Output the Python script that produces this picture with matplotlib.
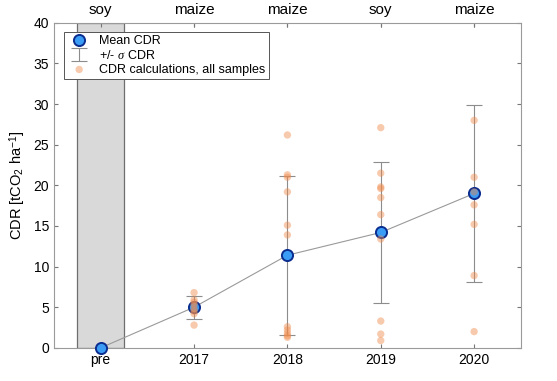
import matplotlib.pyplot as plt
from matplotlib.patches import Rectangle

plt.rcParams['font.family'] = ['Liberation Sans', 'DejaVu Sans']
plt.rcParams['mathtext.fontset'] = 'custom'
plt.rcParams['mathtext.rm'] = 'Liberation Sans'
plt.rcParams['mathtext.it'] = 'Liberation Serif:italic'

# data
years = ['pre', '2017', '2018', '2019', '2020']
crops = ['soy', 'maize', 'maize', 'soy', 'maize']
mean_cdr = [0.0, 5.0, 11.4, 14.2, 19.0]
std_cdr = [0.0, 1.4, 9.8, 8.7, 10.9]

samples_2017 = [6.8, 5.9, 5.6, 5.3, 4.8, 4.5, 4.2, 2.8]
samples_2018 = [26.2, 21.3, 21.0, 19.2, 15.1, 13.9, 2.6, 2.2, 1.8, 1.5, 1.3]
samples_2019 = [27.1, 21.5, 19.8, 19.6, 18.5, 16.4, 13.4, 3.3, 1.7, 0.9]
samples_2020 = [28.0, 21.0, 19.2, 17.6, 15.2, 8.9, 2.0]
samples = [[], samples_2017, samples_2018, samples_2019, samples_2020]

fig, ax = plt.subplots(figsize=(5.57, 3.81), dpi=100)
fig.subplots_adjust(left=0.097, right=0.935, top=0.94, bottom=0.087)

x = list(range(len(years)))

# grey band for the pre-treatment year
ax.add_patch(Rectangle((-0.25, 0), 0.5, 40, facecolor='#d9d9d9',
                       edgecolor='#6e6e6e', linewidth=0.9, zorder=1))

# mean line + error bars
ax.plot(x, mean_cdr, color='#9a9a9a', linewidth=0.8, zorder=2)
ax.errorbar(x, mean_cdr, yerr=std_cdr, fmt='none', ecolor='#8c8c8c',
            elinewidth=0.8, capsize=6, capthick=0.8, zorder=2,
            label=r'+/- $\sigma$ CDR')
ax.plot(x, mean_cdr, 'o', markersize=8, markerfacecolor='#3a9cf5',
        markeredgecolor='#0b2d8f', markeredgewidth=1.4, linestyle='none',
        zorder=3, clip_on=False, label='Mean CDR')

# all samples, drawn over the means
first = True
for i, s in enumerate(samples):
    if not s:
        continue
    ax.scatter([i] * len(s), s, s=28, color='#f08a4b', alpha=0.45,
               edgecolors='none', zorder=4,
               label='CDR calculations, all samples' if first else None)
    first = False

ax.set_xlim(-0.5, 4.5)
ax.set_ylim(0, 40)
ax.set_xticks(x)
ax.set_xticklabels(years)
ax.set_yticks(range(0, 41, 5))
ax.set_ylabel(r'CDR [tCO$_2$ ha$^{-1}$]', fontsize=10.5)
ax.tick_params(direction='in', length=3, labelsize=10, color='#777777',
               top=True, right=True)

top = ax.secondary_xaxis('top')
top.set_xticks(x)
top.set_xticklabels(crops)
top.tick_params(direction='in', length=3, labelsize=11, color='#777777', pad=4)
top.spines['top'].set_visible(False)

for sp in ax.spines.values():
    sp.set_color('#9a9a9a')
    sp.set_linewidth(0.8)

h, l = ax.get_legend_handles_labels()
order = [l.index('Mean CDR'), l.index(r'+/- $\sigma$ CDR'),
         l.index('CDR calculations, all samples')]
leg = ax.legend([h[k] for k in order], [l[k] for k in order],
                loc='upper left', bbox_to_anchor=(0.015, 0.98),
                fontsize=9, fancybox=False, framealpha=1,
                edgecolor='#555555', borderpad=0.25, labelspacing=0.15,
                handletextpad=0.6, handlelength=2.0, borderaxespad=0.2)
leg.get_frame().set_linewidth(0.7)
leg.set_zorder(5)

fig.savefig('out.png', dpi=100)
